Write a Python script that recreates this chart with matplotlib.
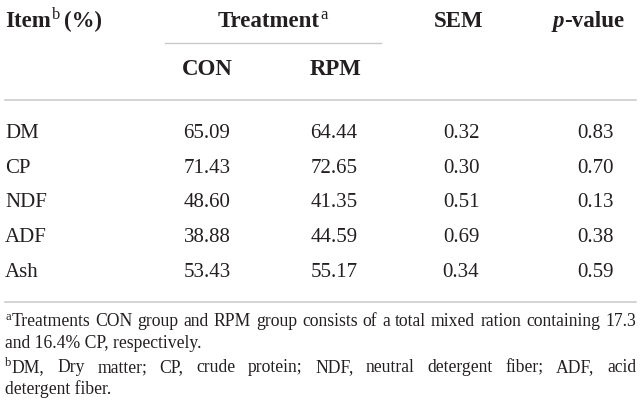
import matplotlib.pyplot as plt

items = ["DM", "CP", "NDF", "ADF", "Ash"]
con = [65.09, 71.43, 48.60, 38.88, 53.43]
rpm = [64.44, 72.65, 41.35, 44.59, 55.17]
sem = [0.32, 0.30, 0.51, 0.69, 0.34]
pval = [0.83, 0.70, 0.13, 0.38, 0.59]

note_a = ["Treatments CON group and RPM group consists of a total mixed ration containing 17.3",
          "and 16.4% CP, respectively."]
note_b = ["DM, Dry matter; CP, crude protein; NDF, neutral detergent fiber; ADF, acid",
          "detergent fiber."]

FONT = "Liberation Serif"
INK = "#231f20"
RULE = "#c8c8c8"
HEAD = 16.5
BODY = 15
NOTE = 12.7

W, H = 641, 412
fig = plt.figure(figsize=(W / 100, H / 100), dpi=100)
ax = fig.add_axes([0, 0, 1, 1])
ax.set_xlim(0, W)
ax.set_ylim(H, 0)
ax.axis("off")
r = fig.canvas.get_renderer()


def txt(x, y, s, size, ha="left", **kw):
    return ax.text(x, y, s, fontsize=size, ha=ha, va="baseline",
                   family=FONT, color=INK, **kw)


def width(t):
    return t.get_window_extent(r).width


def with_sup(x, y, s, sup, size, ha="left", weight="normal"):
    # main text followed by a small raised letter
    t = txt(0, y, s, size, weight=weight)
    u = txt(0, y - size * 0.5, sup, size * 0.72)
    w1, w2 = width(t), width(u)
    x0 = x if ha == "left" else x - (w1 + w2) / 2
    t.set_x(x0)
    u.set_x(x0 + w1 + 1)
    return x0 + w1 + w2 + 1


def justified(x0, x1, y, line, size):
    words = line.split(" ")
    ts = [txt(0, y, w, size) for w in words]
    ws = [width(t) for t in ts]
    gap = (x1 - x0 - sum(ws)) / (len(words) - 1)
    x = x0
    for t, w in zip(ts, ws):
        t.set_x(x)
        x += w + gap


col_con, col_rpm, col_sem, col_p = 207, 334, 461, 596

# header
end = with_sup(5, 27, "Item", "b", HEAD, weight="bold")
txt(end + 4, 27, "(%)", HEAD, weight="bold")
with_sup(272, 27, "Treatment", "a", HEAD, ha="center", weight="bold")
txt(col_sem - 2, 27, "SEM", HEAD, ha="center", weight="bold")
p1 = txt(0, 27, "p", HEAD, weight="bold", style="italic")
p2 = txt(0, 27, "-value", HEAD, weight="bold")
pw = width(p1) + width(p2)
p1.set_x(col_p - 8 - pw / 2)
p2.set_x(col_p - 8 - pw / 2 + width(p1))
ax.plot([165, 381], [43, 43], color=RULE, lw=1)
txt(col_con, 75, "CON", HEAD, ha="center", weight="bold")
txt(col_rpm + 2, 75, "RPM", HEAD, ha="center", weight="bold")
ax.plot([5, 636], [100, 100], color=RULE, lw=1.1)

# body
for i, name in enumerate(items):
    y = 138 + 34.7 * i
    txt(5, y, name, BODY)
    txt(col_con, y, f"{con[i]:.2f}", BODY, ha="center")
    txt(col_rpm, y, f"{rpm[i]:.2f}", BODY, ha="center")
    txt(col_sem, y, f"{sem[i]:.2f}", BODY, ha="center")
    txt(col_p, y, f"{pval[i]:.2f}", BODY, ha="center")
ax.plot([5, 636], [302, 302], color=RULE, lw=1.1)

# footnotes
for sup, lines, y0 in [("a", note_a, 326), ("b", note_b, 372)]:
    s = txt(5, y0 - 6, sup, NOTE * 0.72)
    x0 = 5 + width(s) + 0.5
    justified(x0, 636, y0, lines[0], NOTE)
    txt(5, y0 + 22.5, lines[1], NOTE)

fig.savefig("out.png", dpi=100)
